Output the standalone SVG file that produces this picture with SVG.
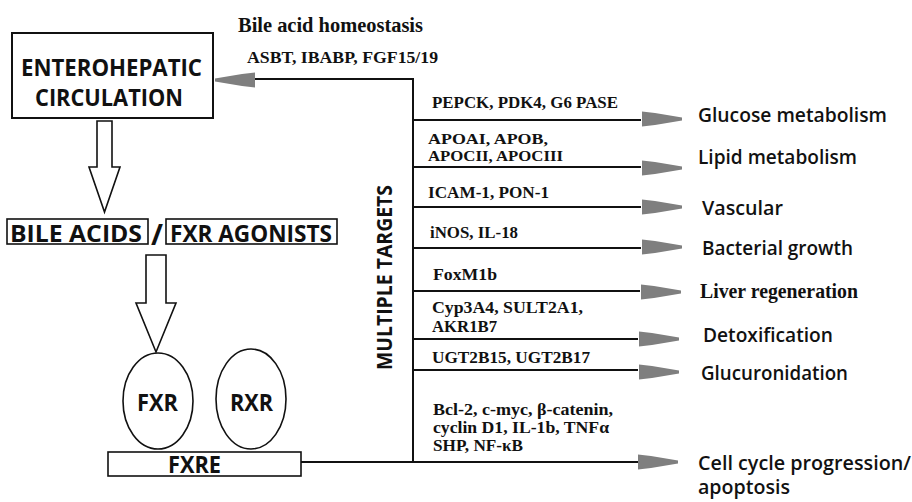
<svg xmlns="http://www.w3.org/2000/svg" width="912" height="502" viewBox="0 0 912 502">
<style>
.box{fill:#fff;stroke:#111;stroke-width:2}
.thin{fill:#fff;stroke:#111;stroke-width:1.6}
.ln{fill:none;stroke:#111;stroke-width:2}
.lb{font-family:"Open Sans","Noto Sans",sans-serif;font-weight:700;font-size:24px;fill:#111}
.rl{font-family:"Open Sans","Noto Sans",sans-serif;font-weight:600;font-size:19px;fill:#111}
.sr{font-family:"Liberation Serif","Times New Roman",serif;font-weight:700;font-size:16px;fill:#111}
.ah{fill:#7f7f7f}
</style>
<defs>
<path id="ar" d="M0,-7.5 L13,-6 L40,-1.5 L40,1.5 L13,6 L0,7.5 Z"/>
</defs>
<rect width="912" height="502" fill="#fff"/>

<g id="connectors">
<line class="ln" x1="255" y1="79" x2="413" y2="79"/>
<line class="ln" x1="413" y1="78" x2="413" y2="463"/>
<line class="ln" x1="301" y1="462" x2="638" y2="462"/>
<line class="ln" x1="413" y1="120" x2="641" y2="120"/>
<line class="ln" x1="413" y1="167" x2="641" y2="167"/>
<line class="ln" x1="413" y1="207" x2="641" y2="207"/>
<line class="ln" x1="413" y1="248" x2="641" y2="248"/>
<line class="ln" x1="413" y1="291" x2="640" y2="291"/>
<line class="ln" x1="413" y1="339" x2="638" y2="339"/>
<line class="ln" x1="413" y1="370" x2="638" y2="370"/>
<use class="ah" href="#ar" transform="translate(255,80) scale(-1,1)"/>
<use class="ah" href="#ar" transform="translate(642,119)"/>
<use class="ah" href="#ar" transform="translate(642,168)"/>
<use class="ah" href="#ar" transform="translate(642,207)"/>
<use class="ah" href="#ar" transform="translate(642,247)"/>
<use class="ah" href="#ar" transform="translate(641,292)"/>
<use class="ah" href="#ar" transform="translate(639,339)"/>
<use class="ah" href="#ar" transform="translate(639,372)"/>
<use class="ah" href="#ar" transform="translate(638,462)"/>
<polygon class="thin" points="97,121 112,121 112,167 120,167 104.5,212 89,167 97,167"/>
<polygon class="thin" points="146,255 166,255 166,303 176,303 156,352 136,303 146,303"/>
</g>

<g id="labels-top">
<text class="sr" x="238" y="32" textLength="185" lengthAdjust="spacingAndGlyphs" style="font-size:20px">Bile acid homeostasis</text>
<text class="sr" x="247" y="63" textLength="191" lengthAdjust="spacingAndGlyphs" style="font-size:17.5px">ASBT, IBABP, FGF15/19</text>
</g>

<g id="enterohepatic">
<rect class="box" x="12" y="33" width="201" height="85"/>
<text class="lb" x="21" y="76" textLength="181" lengthAdjust="spacingAndGlyphs">ENTEROHEPATIC</text>
<text class="lb" x="35" y="106" textLength="148" lengthAdjust="spacingAndGlyphs">CIRCULATION</text>
</g>

<g id="bile-acids">
<rect class="thin" x="7" y="219" width="141" height="25"/>
<text class="lb" x="10" y="242" textLength="132" lengthAdjust="spacingAndGlyphs">BILE ACIDS</text>
</g>
<g id="slash">
<text class="lb" x="157" y="245" text-anchor="middle" style="font-size:29px">/</text>
</g>
<g id="fxr-agonists">
<rect class="thin" x="166" y="219" width="171" height="25"/>
<text class="lb" x="170" y="242" textLength="162" lengthAdjust="spacingAndGlyphs">FXR AGONISTS</text>
</g>

<g id="fxr">
<ellipse class="thin" cx="158" cy="401" rx="35" ry="48"/>
<text class="lb" x="137" y="411" textLength="41" lengthAdjust="spacingAndGlyphs">FXR</text>
</g>
<g id="rxr">
<ellipse class="thin" cx="251" cy="399" rx="35" ry="50"/>
<text class="lb" x="230" y="411" textLength="43" lengthAdjust="spacingAndGlyphs">RXR</text>
</g>
<g id="fxre">
<rect class="thin" x="108" y="452" width="193" height="24"/>
<text class="lb" x="168" y="473" textLength="53" lengthAdjust="spacingAndGlyphs">FXRE</text>
</g>

<g id="multiple-targets">
<text class="lb" transform="translate(392,370) rotate(-90)" x="0" y="0" textLength="185" lengthAdjust="spacingAndGlyphs" style="font-size:22px">MULTIPLE TARGETS</text>
</g>

<g id="genes">
<text class="sr" x="432" y="108" textLength="186" lengthAdjust="spacingAndGlyphs">PEPCK, PDK4, G6 PASE</text>
<text class="sr" x="428" y="144" textLength="120" lengthAdjust="spacingAndGlyphs" style="font-size:15px">APOAI, APOB,</text>
<text class="sr" x="428" y="161" textLength="135" lengthAdjust="spacingAndGlyphs" style="font-size:15px">APOCII, APOCIII</text>
<text class="sr" x="428" y="198" textLength="121" lengthAdjust="spacingAndGlyphs">ICAM-1, PON-1</text>
<text class="sr" x="430" y="238" textLength="88" lengthAdjust="spacingAndGlyphs">iNOS, IL-18</text>
<text class="sr" x="433" y="280" textLength="64" lengthAdjust="spacingAndGlyphs">FoxM1b</text>
<text class="sr" x="432" y="313" textLength="151" lengthAdjust="spacingAndGlyphs">Cyp3A4, SULT2A1,</text>
<text class="sr" x="432" y="332" textLength="65" lengthAdjust="spacingAndGlyphs">AKR1B7</text>
<text class="sr" x="432" y="363" textLength="158" lengthAdjust="spacingAndGlyphs">UGT2B15, UGT2B17</text>
<text class="sr" x="433" y="415" textLength="180" lengthAdjust="spacingAndGlyphs">Bcl-2, c-myc, β-catenin,</text>
<text class="sr" x="433" y="433" textLength="176" lengthAdjust="spacingAndGlyphs">cyclin D1, IL-1b, TNFα</text>
<text class="sr" x="433" y="451" textLength="90" lengthAdjust="spacingAndGlyphs">SHP, NF-κB</text>
</g>

<g id="outcomes">
<text class="rl" x="698" y="122" textLength="189" lengthAdjust="spacingAndGlyphs">Glucose metabolism</text>
<text class="rl" x="698" y="164" textLength="159" lengthAdjust="spacingAndGlyphs">Lipid metabolism</text>
<text class="rl" x="702" y="215" textLength="81" lengthAdjust="spacingAndGlyphs">Vascular</text>
<text class="rl" x="702" y="255" textLength="151" lengthAdjust="spacingAndGlyphs">Bacterial growth</text>
<text class="sr" x="700" y="298" textLength="158" lengthAdjust="spacingAndGlyphs" style="font-size:21px">Liver regeneration</text>
<text class="rl" x="703" y="342" textLength="130" lengthAdjust="spacingAndGlyphs">Detoxification</text>
<text class="rl" x="701" y="380" textLength="147" lengthAdjust="spacingAndGlyphs">Glucuronidation</text>
<text class="rl" x="698" y="470" textLength="213" lengthAdjust="spacingAndGlyphs">Cell cycle progression/</text>
<text class="rl" x="698" y="494" textLength="92" lengthAdjust="spacingAndGlyphs">apoptosis</text>
</g>
</svg>
